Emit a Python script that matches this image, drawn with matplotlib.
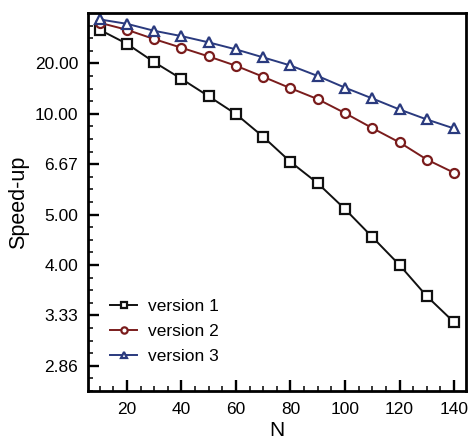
import numpy as np
import matplotlib
matplotlib.use("Agg")
import matplotlib.pyplot as plt
from matplotlib.ticker import FixedLocator, FuncFormatter

N = [10, 20, 30, 40, 50, 60, 70, 80, 90, 100, 110, 120, 130, 140]
version1 = [60.0, 32.7, 20.5, 15.3, 12.1, 9.97, 8.14, 6.77, 5.92, 5.14, 4.50, 4.00, 3.56, 3.26]
version2 = [103.0, 60.0, 38.6, 29.0, 23.2, 19.1, 15.8, 13.4, 11.7, 10.07, 8.76, 7.79, 6.88, 6.31]
version3 = [157.0, 93.0, 56.6, 43.6, 34.3, 27.7, 22.7, 19.2, 16.0, 13.5, 11.8, 10.45, 9.47, 8.73]
labels = ["version 1", "version 2", "version 3"]
ytick_values = [20.0, 10.0, 20 / 3, 5.0, 4.0, 20 / 6, 20 / 7]
xticks = [20, 40, 60, 80, 100, 120, 140]

plt.rcParams['font.family'] = ['Liberation Sans', 'DejaVu Sans']

fig = plt.figure(figsize=(4.69, 4.41), dpi=100)
ax = fig.add_axes([88 / 469, 1 - 391 / 441, (466 - 88) / 469, (391 - 13) / 441])


def fwd(y):
    y = np.asarray(y, dtype=float)
    with np.errstate(divide='ignore', invalid='ignore'):
        return -1.0 / y


def inv(x):
    x = np.asarray(x, dtype=float)
    with np.errstate(divide='ignore', invalid='ignore'):
        return -1.0 / x


ax.set_yscale('function', functions=(fwd, inv))

colors = ['#111111', '#7a1c1c', '#2a3a7e']
markers = ['s', 'o', '^']
for vals, c, m, lab in zip([version1, version2, version3], colors, markers, labels):
    ax.plot(N, vals, color=c, marker=m, markerfacecolor='white', markeredgecolor=c,
            markersize=6.5, markeredgewidth=1.6, linewidth=1.4, label=lab)

ax.set_xlim(5.7, 144.4)
ax.set_ylim(20 / 7.5, 1e12)

ax.set_xticks(xticks)
ax.xaxis.set_minor_locator(FixedLocator(np.arange(10, 145, 5)))
ax.yaxis.set_major_locator(FixedLocator(ytick_values))
minor_u = [k / 4 for k in range(1, 31) if k % 4 != 0]
ax.yaxis.set_minor_locator(FixedLocator([20 / u for u in minor_u]))
ax.yaxis.set_major_formatter(FuncFormatter(lambda v, p: f"{v:.2f}"))
ax.yaxis.set_minor_formatter(FuncFormatter(lambda v, p: ""))

ax.tick_params(which='major', direction='in', length=8, width=1.7, labelsize=12.5, color='black')
ax.tick_params(which='minor', direction='in', length=3.5, width=1.1)
ax.tick_params(axis='x', which='major', pad=8)
ax.tick_params(axis='y', which='major', pad=7)
ax.tick_params(top=False, right=False, which='both')
for s in ax.spines.values():
    s.set_linewidth(2.0)

ax.set_xlabel('N', fontsize=15, labelpad=3)
ax.set_ylabel('Speed-up', fontsize=15.5, labelpad=4)

ax.legend(loc='lower left', frameon=False, fontsize=12.5, handlelength=1.55,
          bbox_to_anchor=(0.018, 0.031), labelspacing=0.55, handletextpad=0.63,
          markerscale=0.7)

fig.savefig('out.png', dpi=100)
